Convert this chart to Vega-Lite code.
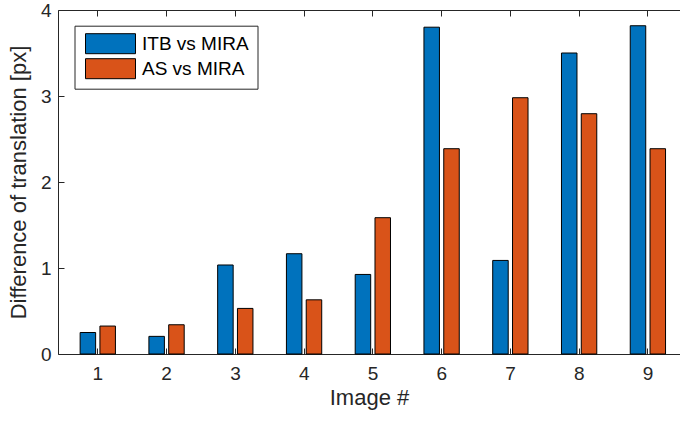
{
  "$schema": "https://vega.github.io/schema/vega-lite/v6.json",
  "width": 622,
  "height": 344,
  "autosize": {"type": "none"},
  "padding": {"left": 58, "top": 10, "right": 0, "bottom": 67},
  "background": "white",
  "config": {
    "view": {"stroke": null},
    "font": "Liberation Sans",
    "axis": {
      "domainColor": "#262626",
      "tickColor": "#262626",
      "labelColor": "#262626",
      "titleColor": "#262626",
      "labelFont": "Liberation Sans",
      "titleFont": "Liberation Sans",
      "labelFontSize": 19,
      "titleFontSize": 22,
      "titleFontWeight": "normal",
      "grid": false,
      "tickSize": -6,
      "domainWidth": 1,
      "tickWidth": 1
    }
  },
  "data": {
    "values": [
      {"image": 1, "series": "ITB vs MIRA", "value": 0.25},
      {"image": 2, "series": "ITB vs MIRA", "value": 0.205},
      {"image": 3, "series": "ITB vs MIRA", "value": 1.035},
      {"image": 4, "series": "ITB vs MIRA", "value": 1.166},
      {"image": 5, "series": "ITB vs MIRA", "value": 0.925},
      {"image": 6, "series": "ITB vs MIRA", "value": 3.80},
      {"image": 7, "series": "ITB vs MIRA", "value": 1.088},
      {"image": 8, "series": "ITB vs MIRA", "value": 3.50},
      {"image": 9, "series": "ITB vs MIRA", "value": 3.817},
      {"image": 1, "series": "AS vs MIRA", "value": 0.325},
      {"image": 2, "series": "AS vs MIRA", "value": 0.34},
      {"image": 3, "series": "AS vs MIRA", "value": 0.53},
      {"image": 4, "series": "AS vs MIRA", "value": 0.63},
      {"image": 5, "series": "AS vs MIRA", "value": 1.585},
      {"image": 6, "series": "AS vs MIRA", "value": 2.387},
      {"image": 7, "series": "AS vs MIRA", "value": 2.98},
      {"image": 8, "series": "AS vs MIRA", "value": 2.794},
      {"image": 9, "series": "AS vs MIRA", "value": 2.387}
    ]
  },
  "layer": [
    {
      "transform": [{"filter": "datum.series === 'ITB vs MIRA'"}],
      "mark": {"type": "bar", "width": 15.5, "xOffset": -9.5, "stroke": "#000000", "strokeWidth": 1, "opacity": 1},
      "encoding": {
        "x": {
          "field": "image", "type": "quantitative",
          "scale": {"domain": [0.5, 9.4], "nice": false, "zero": false},
          "axis": {"orient": "bottom", "values": [1,2,3,4,5,6,7,8,9], "format": "d", "title": "Image #", "labelPadding": 16, "titlePadding": 4}
        },
        "y": {
          "field": "value", "type": "quantitative",
          "scale": {"domain": [0, 4], "nice": false},
          "axis": {"values": [0,1,2,3,4], "format": "d", "title": "Difference of translation [px]", "labelPadding": 13, "titlePadding": 10}
        },
        "color": {
          "field": "series", "type": "nominal",
          "scale": {"domain": ["ITB vs MIRA", "AS vs MIRA"], "range": ["#0072BD", "#D95319"]},
          "legend": {
            "title": null,
            "orient": "none",
            "legendX": 16.5,
            "legendY": 15.7,
            "fillColor": "white",
            "strokeColor": "#262626",
            "padding": 8,
            "labelFont": "Liberation Sans",
            "labelFontSize": 19,
            "labelColor": "#000000",
            "labelOffset": 38.5,
            "symbolType": "M-0.75,-1.05L4.25,-1.05L4.25,0.95L-0.75,0.95Z",
            "symbolSize": 400,
            "symbolStrokeColor": "#000000",
            "symbolStrokeWidth": 1,
            "symbolOpacity": 1,
            "rowPadding": 1
          }
        }
      }
    },
    {
      "transform": [{"filter": "datum.series === 'AS vs MIRA'"}],
      "mark": {"type": "bar", "width": 15.5, "xOffset": 10.3, "stroke": "#000000", "strokeWidth": 1, "opacity": 1},
      "encoding": {
        "x": {
          "field": "image", "type": "quantitative",
          "scale": {"domain": [0.5, 9.4], "nice": false, "zero": false},
          "axis": {"orient": "top", "values": [1,2,3,4,5,6,7,8,9], "title": null, "labels": false}
        },
        "y": {"field": "value", "type": "quantitative"},
        "color": {"field": "series", "type": "nominal"}
      }
    }
  ],
  "resolve": {"axis": {"x": "independent"}}
}
